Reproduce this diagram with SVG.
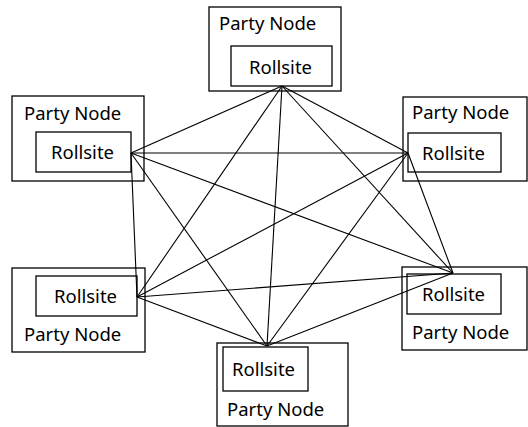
<svg xmlns="http://www.w3.org/2000/svg" width="528" height="427" viewBox="0 0 528 427">
  <style>
    rect { fill: #ffffff; stroke: #000000; stroke-width: 1.3; }
    text { font-family: "Noto Sans", "Open Sans", sans-serif; font-size: 18.5px; fill: #000000; }
    .links line { stroke: #000000; stroke-width: 1.1; }
  </style>
  <rect x="0" y="0" width="528" height="427" style="stroke:none"/>

  <g id="node-top">
    <rect x="209" y="7" width="132" height="84"/>
    <text x="219" y="30">Party Node</text>
    <rect x="231" y="46" width="101" height="40"/>
    <text x="249" y="74">Rollsite</text>
  </g>
  <g id="node-left">
    <rect x="12" y="96" width="132" height="85"/>
    <text x="24" y="120">Party Node</text>
    <rect x="36" y="132" width="95" height="40"/>
    <text x="51" y="159">Rollsite</text>
  </g>
  <g id="node-right">
    <rect x="403" y="97" width="124" height="84"/>
    <text x="412" y="119">Party Node</text>
    <rect x="408" y="133" width="93" height="39"/>
    <text x="422" y="160">Rollsite</text>
  </g>
  <g id="node-bottom-left">
    <rect x="12" y="268" width="133" height="84"/>
    <rect x="36" y="276" width="101" height="40"/>
    <text x="54" y="303">Rollsite</text>
    <text x="24" y="341">Party Node</text>
  </g>
  <g id="node-bottom-right">
    <rect x="402" y="267" width="125" height="83"/>
    <rect x="407" y="274" width="94" height="40"/>
    <text x="422" y="301">Rollsite</text>
    <text x="412" y="339">Party Node</text>
  </g>
  <g id="node-bottom">
    <rect x="217" y="343" width="131" height="83"/>
    <rect x="223" y="347" width="85" height="44"/>
    <text x="232" y="376">Rollsite</text>
    <text x="227" y="416">Party Node</text>
  </g>

  <!-- full mesh between the six Rollsite endpoints -->
  <g class="links" id="connectors">
    <line x1="282" y1="86" x2="131" y2="153"/>
    <line x1="282" y1="86" x2="408" y2="153"/>
    <line x1="282" y1="86" x2="137" y2="297"/>
    <line x1="282" y1="86" x2="453" y2="273"/>
    <line x1="282" y1="86" x2="267" y2="346"/>
    <line x1="131" y1="153" x2="408" y2="153"/>
    <line x1="131" y1="153" x2="137" y2="297"/>
    <line x1="131" y1="153" x2="453" y2="273"/>
    <line x1="131" y1="153" x2="267" y2="346"/>
    <line x1="408" y1="153" x2="137" y2="297"/>
    <line x1="408" y1="153" x2="453" y2="273"/>
    <line x1="408" y1="153" x2="267" y2="346"/>
    <line x1="137" y1="297" x2="453" y2="273"/>
    <line x1="137" y1="297" x2="267" y2="346"/>
    <line x1="453" y1="273" x2="267" y2="346"/>
  </g>
</svg>
